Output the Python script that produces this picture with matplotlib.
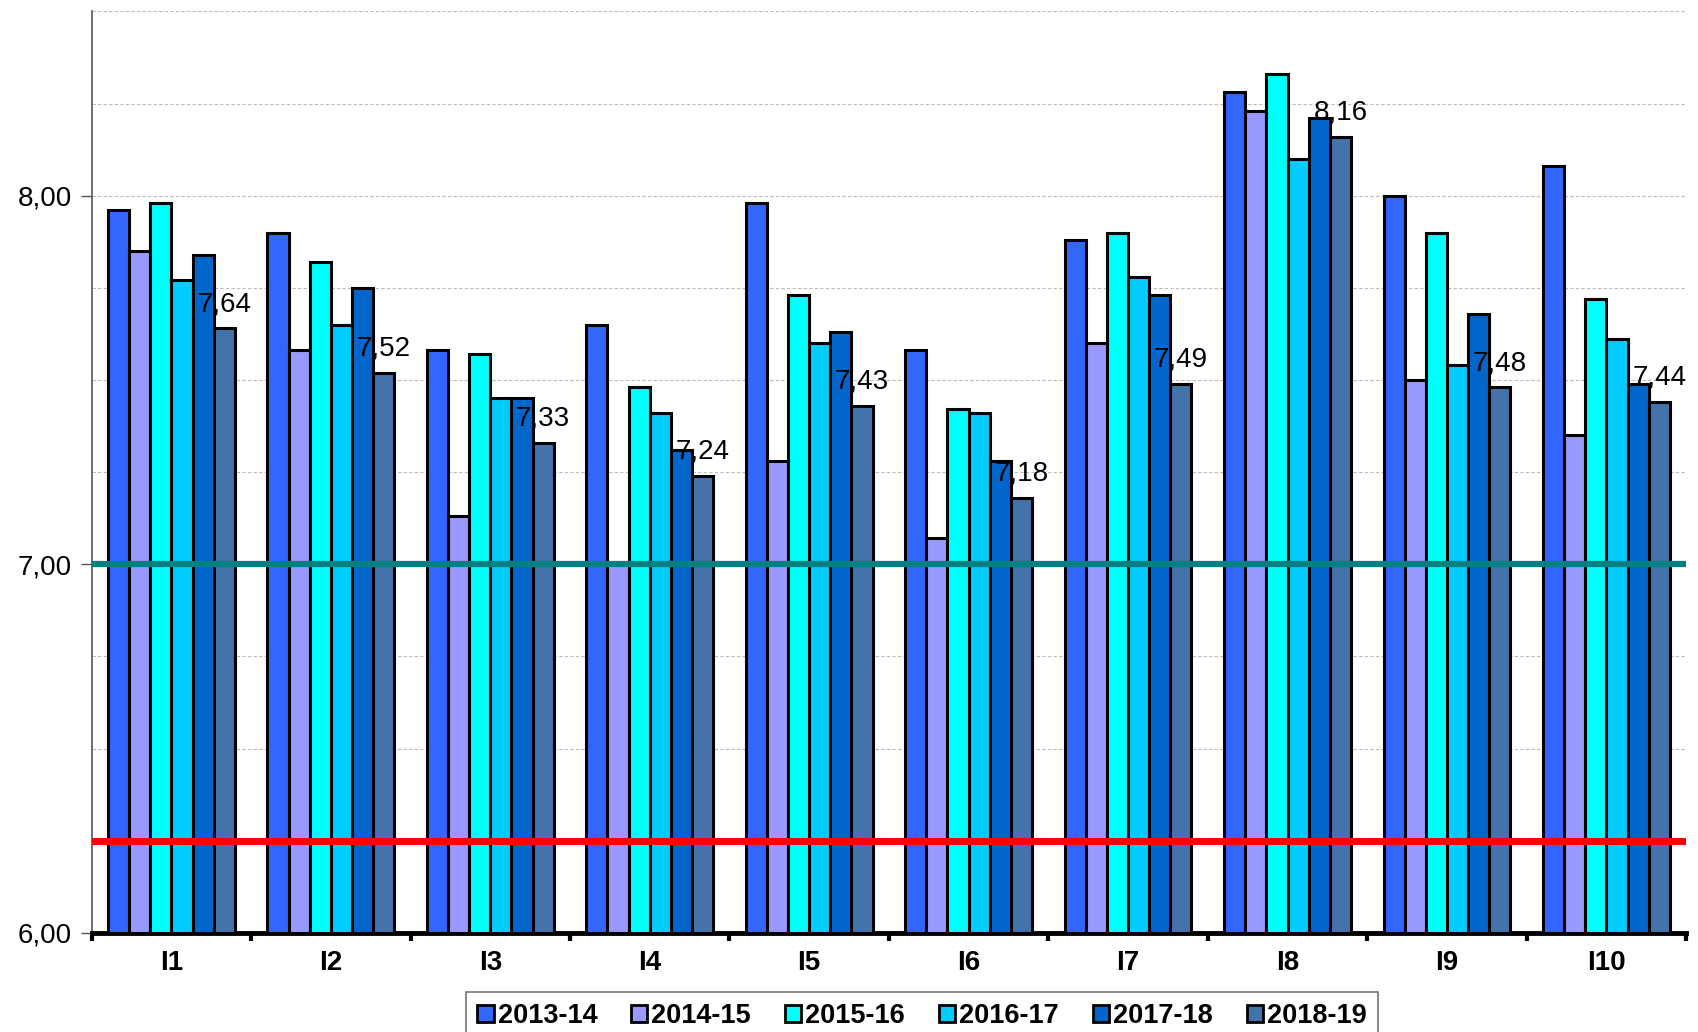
import numpy as np
import matplotlib.pyplot as plt
from matplotlib.ticker import MultipleLocator, FuncFormatter
from matplotlib.patches import Patch

plt.rcParams['font.family'] = ['Liberation Sans', 'DejaVu Sans']

categories = ["I1", "I2", "I3", "I4", "I5", "I6", "I7", "I8", "I9", "I10"]
seasons = ["2013-14", "2014-15", "2015-16", "2016-17", "2017-18", "2018-19"]

v_2013 = [7.96, 7.90, 7.58, 7.65, 7.98, 7.58, 7.88, 8.28, 8.00, 8.08]
v_2014 = [7.85, 7.58, 7.13, 7.00, 7.28, 7.07, 7.60, 8.23, 7.50, 7.35]
v_2015 = [7.98, 7.82, 7.57, 7.48, 7.73, 7.42, 7.90, 8.33, 7.90, 7.72]
v_2016 = [7.77, 7.65, 7.45, 7.41, 7.60, 7.41, 7.78, 8.10, 7.54, 7.61]
v_2017 = [7.84, 7.75, 7.45, 7.31, 7.63, 7.28, 7.73, 8.21, 7.68, 7.49]
v_2018 = [7.64, 7.52, 7.33, 7.24, 7.43, 7.18, 7.49, 8.16, 7.48, 7.44]

colors = ["#3366FF", "#9999FF", "#00FFFF", "#00CCFF", "#0066CC", "#4472AA"]
series = [v_2013, v_2014, v_2015, v_2016, v_2017, v_2018]

fig = plt.figure(figsize=(16.98, 10.32), dpi=100)
ax = fig.add_axes([0.054, 0.096, 0.939, 0.893])

n = len(series)
group_w = 0.795
bar_w = group_w / n
x = np.arange(len(categories))

for i, (vals, col) in enumerate(zip(series, colors)):
    pos = x - group_w / 2 + bar_w * (i + 0.5)
    ax.bar(pos, np.array(vals) - 6.0, bottom=6.0, width=bar_w, color=col,
           edgecolor="black", linewidth=2.2, zorder=3, label=seasons[i])

# value labels on the latest season
last_pos = x - group_w / 2 + bar_w * (n - 0.5)
for xp, v in zip(last_pos, v_2018):
    ax.annotate(f"{v:.2f}".replace(".", ","), (xp, v), xytext=(0, 8),
                textcoords="offset points", ha="center", va="bottom",
                fontsize=20, zorder=5)

# reference lines
ax.axhline(7.0, color="#008080", linewidth=4.5, zorder=4)
ax.axhline(6.25, color="#FF0000", linewidth=5, zorder=4)

ax.set_xlim(-0.5, len(categories) - 0.5)
ax.set_ylim(6.0, 8.5)
ax.yaxis.set_major_locator(MultipleLocator(1.0))
ax.yaxis.set_minor_locator(MultipleLocator(0.25))
ax.yaxis.set_major_formatter(FuncFormatter(lambda v, p: f"{v:.2f}".replace(".", ",")))
ax.grid(axis="y", which="both", linestyle=(0, (3, 2)), color="#BBBBBB", linewidth=0.8, zorder=0)
ax.tick_params(axis="y", which="major", labelsize=20, length=8, width=1, color="#555555", pad=6)
ax.tick_params(axis="y", which="minor", length=0)

ax.set_xticks(x)
ax.set_xticklabels(categories, fontsize=20, fontweight="bold")
ax.tick_params(axis="x", which="major", length=0, pad=12)
ax.set_xticks(np.arange(len(categories) + 1) - 0.5, minor=True)
ax.tick_params(axis="x", which="minor", length=6, width=3, color="black")

for s in ["top", "right"]:
    ax.spines[s].set_visible(False)
ax.spines["left"].set_color("#555555")
ax.spines["left"].set_linewidth(1.2)
ax.spines["bottom"].set_linewidth(3.5)

handles = [Patch(facecolor=c, edgecolor="black", linewidth=2) for c in colors]
leg = fig.legend(handles, seasons, loc="upper center", bbox_to_anchor=(0.543, 0.052),
                 ncol=6, frameon=True, fancybox=False, handlelength=0.6, handleheight=0.6,
                 handletextpad=0.15, columnspacing=1.25, borderpad=0.4,
                 prop={"weight": "bold", "size": 19.5})
leg.get_frame().set_edgecolor("#555555")
leg.get_frame().set_linewidth(1.2)

fig.savefig("out.png", dpi=100)
